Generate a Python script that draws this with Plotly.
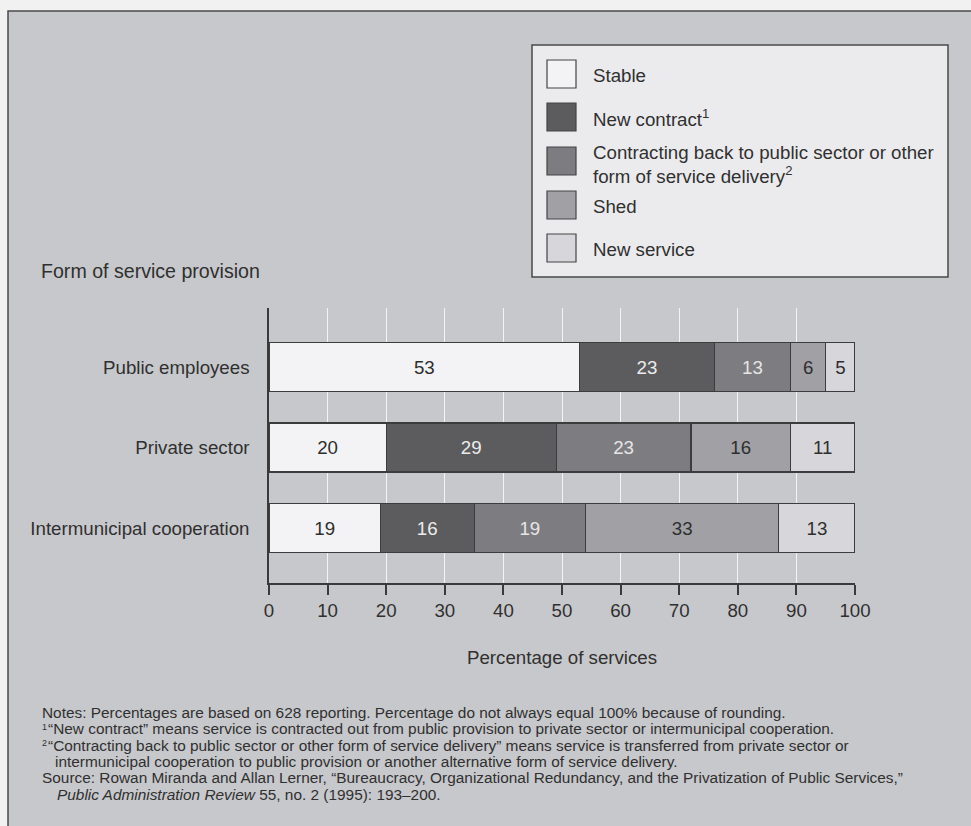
import plotly.graph_objects as go

# ---------------- data ----------------
categories = ["Public employees", "Private sector", "Intermunicipal cooperation"]
series_names = [
    "Stable",
    "New contract<sup>1</sup>",
    "Contracting back to public sector or other<br>form of service delivery<sup>2</sup>",
    "Shed",
    "New service",
]
# segment lengths as drawn in the picture
stable = [53, 20, 19]
new_contract = [23, 29, 16]
contracting_back = [13, 23, 19]
shed = [6, 17, 33]
new_service = [5, 11, 13]
# printed labels (rounded values shown in the bars)
stable_labels = [53, 20, 19]
new_contract_labels = [23, 29, 16]
contracting_back_labels = [13, 23, 19]
shed_labels = [6, 16, 33]
new_service_labels = [5, 11, 13]
x_ticks = [0, 10, 20, 30, 40, 50, 60, 70, 80, 90, 100]

notes_marks = ["", "1", "2", "", "", ""]
notes_lines = [
    "Notes: Percentages are based on 628 reporting. Percentage do not always equal 100% because of rounding.",
    "\u201cNew contract\u201d means service is contracted out from public provision to private sector or intermunicipal cooperation.",
    "\u201cContracting back to public sector or other form of service delivery\u201d means service is transferred from private sector or",
    "intermunicipal cooperation to public provision or another alternative form of service delivery.",
    "Source: Rowan Miranda and Allan Lerner, \u201cBureaucracy, Organizational Redundancy, and the Privatization of Public Services,\u201d",
    "<i>Public Administration Review</i> 55, no. 2 (1995): 193\u2013200.",
]

series_values = [stable, new_contract, contracting_back, shed, new_service]
series_labels = [stable_labels, new_contract_labels, contracting_back_labels, shed_labels, new_service_labels]

# ---------------- styles ----------------
FONT = "Liberation Sans, Arial, Helvetica, sans-serif"
FS = 18.7
fill_colors = ["#f3f3f6", "#5c5c5f", "#7d7d81", "#a1a1a5", "#d7d7db"]
text_colors = ["#2e2e2e", "#ececec", "#e6e6e6", "#2e2e2e", "#2e2e2e"]
outline = "#3c3c3c"
frame_bg = "#c7c8cb"
page_bg = "#f1f1f2"
legend_bg = "#ebebee"
dark_text = "#303030"

W, H = 971, 826
PL, PR, PT, PB = 269, 855, 308, 583  # plot area in pixels


def px_x(p):
    return (p - PL) / (PR - PL)


def px_y(p):
    return (PB - p) / (PB - PT)


fig = go.Figure()
for name, vals, labs, fc, tc in zip(series_names, series_values, series_labels, fill_colors, text_colors):
    fig.add_trace(
        go.Bar(
            orientation="h",
            y=categories,
            x=vals,
            name=name,
            marker=dict(color=fc, line=dict(color=outline, width=1.2)),
            text=labs,
            textposition="inside",
            insidetextanchor="middle",
            textangle=0,
            textfont=dict(family=FONT, size=FS, color=tc),
            width=0.61,
            showlegend=False,
            hoverinfo="skip",
        )
    )

shapes = []
# grey frame
shapes.append(dict(type="rect", xref="paper", yref="paper",
                   x0=px_x(8), x1=px_x(1200), y0=px_y(11), y1=px_y(1100),
                   fillcolor=frame_bg, line=dict(color="#4a4a4a", width=1.5), layer="below"))
# legend box
shapes.append(dict(type="rect", xref="paper", yref="paper",
                   x0=px_x(532), x1=px_x(948), y0=px_y(45), y1=px_y(277),
                   fillcolor=legend_bg, line=dict(color="#4a4a4a", width=1.5), layer="above"))

legend_centers = [74, 117, 161, 205, 248]
legend_text_y = [75, 118, 164, 206, 249]
annotations = []
for name, fc, yc, ty in zip(series_names, fill_colors, legend_centers, legend_text_y):
    shapes.append(dict(type="rect", xref="paper", yref="paper",
                       x0=px_x(547), x1=px_x(576), y0=px_y(yc - 14), y1=px_y(yc + 14),
                       fillcolor=fc, line=dict(color="#444444", width=1.2), layer="above"))
    annotations.append(dict(xref="paper", yref="paper", x=px_x(591), y=px_y(ty),
                            xanchor="left", yanchor="middle", align="left", showarrow=False,
                            text=name, font=dict(family=FONT, size=FS, color=dark_text)))

annotations.append(dict(xref="paper", yref="paper", x=px_x(39), y=px_y(271),
                        xanchor="left", yanchor="middle", showarrow=False,
                        text="Form of service provision",
                        font=dict(family=FONT, size=19.6, color=dark_text)))
annotations.append(dict(xref="paper", yref="paper", x=0.5, y=px_y(657),
                        xanchor="center", yanchor="middle", showarrow=False,
                        text="Percentage of services",
                        font=dict(family=FONT, size=FS, color=dark_text)))

note_x = [40, 46, 46, 53, 40, 55]
for i, (mark, line, nx) in enumerate(zip(notes_marks, notes_lines, note_x)):
    ly = 712.5 + 16.3 * i
    if mark:
        annotations.append(dict(xref="paper", yref="paper", x=px_x(40), y=px_y(ly - 2),
                                xanchor="left", yanchor="middle", showarrow=False,
                                text=mark, font=dict(family=FONT, size=9, color=dark_text)))
    annotations.append(dict(xref="paper", yref="paper", x=px_x(nx), y=px_y(ly),
                            xanchor="left", yanchor="middle", align="left", showarrow=False,
                            text=line, font=dict(family=FONT, size=15.4, color=dark_text)))

fig.update_layout(
    width=W, height=H, autosize=False,
    margin=dict(l=PL, r=W - PR, t=PT, b=H - PB, pad=0),
    barmode="stack",
    paper_bgcolor=page_bg,
    plot_bgcolor="rgba(0,0,0,0)",
    font=dict(family=FONT, color=dark_text),
    shapes=shapes,
    annotations=annotations,
    xaxis=dict(
        range=[0, 100], tickvals=x_ticks, ticks="outside", ticklen=10, tickwidth=1.5,
        tickcolor="#3a3a3a", showline=True, linecolor="#3a3a3a", linewidth=1.5,
        showgrid=True, gridcolor="#f4f4f6", gridwidth=1, zeroline=False,
        tickfont=dict(family=FONT, size=FS, color=dark_text), fixedrange=True,
    ),
    yaxis=dict(
        type="category", categoryorder="array", categoryarray=categories,
        range=[2.683, -0.733], showline=True, linecolor="#3a3a3a", linewidth=1.5,
        ticks="outside", ticklen=14, tickcolor="rgba(0,0,0,0)", showgrid=False,
        zeroline=False, tickfont=dict(family=FONT, size=FS, color=dark_text), fixedrange=True,
    ),
)

fig.write_html(
    "out.html",
    config={"displayModeBar": False},
    post_script="document.body.style.margin='0';document.body.style.overflow='hidden';",
)
